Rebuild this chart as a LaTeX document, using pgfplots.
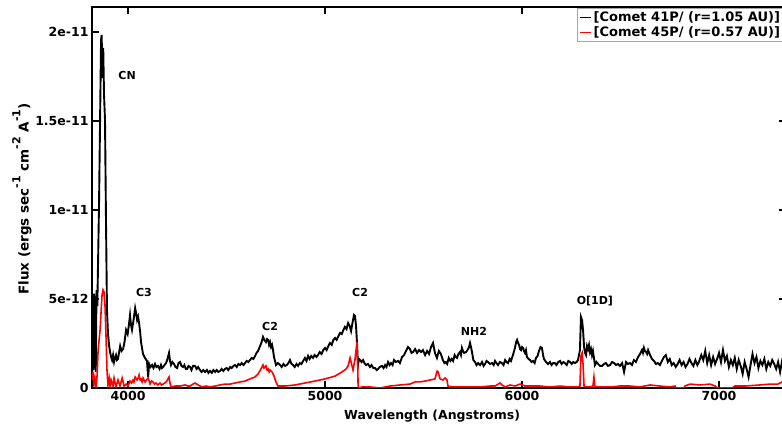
\documentclass[border=0pt]{standalone}
\usepackage{fontspec}
\setmainfont{DejaVu Sans}
\usepackage{pgfplots}
\pgfplotsset{compat=1.18}

% flux in units of 1e-12 erg/s/cm2/A
\pgfplotstableread{
x y
3817 0.0
3820 4.94
3824 1.0
3828 5.3
3832 4.4
3836 0.9
3840 5.5
3844 4.6
3848 7.19
3853 10.56
3858 15.06
3863 19.55
3866 19.83
3870 17.4
3874 19.1
3878 16.5
3883 15.06
3888 9.44
3893 4.38
3898 3.10
3904 2.36
3909 2.02
3914 1.74
3919 1.57
3924 1.85
3929 1.46
3934 1.69
3939 1.85
3944 1.57
3949 1.63
3954 1.97
3960 2.36
3967 2.08
3975 2.19
3982 2.58
3990 3.26
3998 3.03
4005 3.60
4010 4.10
4015 3.54
4020 3.26
4028 3.82
4036 4.49
4041 4.20
4046 3.82
4051 4.00
4056 3.65
4061 3.20
4066 2.58
4076 1.91
4086 1.69
4096 1.52
4102 0.62
4107 1.35
4114 1.18
4122 1.29
4129 1.12
4137 1.35
4144 1.18
4152 1.24
4160 1.07
4167 1.29
4172 1.12
4178 1.18
4185 1.29
4193 1.40
4200 1.63
4208 1.97
4213 1.52
4218 1.29
4225 1.46
4233 1.35
4241 1.18
4249 1.12
4256 1.40
4264 1.46
4271 1.24
4279 1.18
4286 1.29
4293 1.07
4300 1.07
4307 1.24
4315 1.18
4322 1.01
4330 1.24
4340 1.24
4348 1.07
4356 1.18
4365 1.01
4373 0.90
4382 1.01
4391 0.90
4400 1.01
4408 0.85
4416 0.96
4425 0.85
4433 1.01
4442 0.90
4450 1.01
4458 0.90
4467 0.96
4475 1.07
4484 0.96
4492 1.07
4500 1.12
4509 1.01
4518 1.18
4526 1.12
4535 1.24
4543 1.29
4552 1.18
4560 1.35
4569 1.29
4577 1.40
4586 1.29
4594 1.40
4602 1.52
4611 1.46
4619 1.57
4628 1.69
4636 1.63
4645 1.80
4652 1.97
4660 2.08
4670 2.36
4678 2.58
4685 2.87
4692 2.70
4700 2.58
4706 2.75
4711 2.70
4716 2.42
4721 2.58
4726 2.30
4731 2.42
4736 2.13
4741 1.74
4751 1.29
4761 1.40
4772 1.29
4780 1.18
4789 1.35
4797 1.24
4806 1.29
4814 1.40
4822 1.57
4830 1.35
4838 1.29
4846 1.18
4855 1.35
4863 1.24
4872 1.40
4880 1.35
4889 1.52
4898 1.69
4906 1.52
4914 1.80
4922 1.63
4930 1.80
4939 1.69
4947 1.85
4956 1.74
4964 1.85
4973 2.02
4982 1.91
4991 2.13
5000 2.25
5008 2.13
5017 2.36
5025 2.53
5034 2.42
5042 2.70
5051 2.81
5059 2.70
5068 2.92
5076 3.09
5085 3.03
5093 3.26
5101 3.43
5109 3.31
5117 3.65
5125 3.48
5132 3.20
5140 3.70
5147 4.10
5152 4.04
5157 3.54
5162 2.58
5167 1.29
5172 1.63
5178 1.57
5185 1.46
5193 1.57
5200 1.40
5208 1.29
5218 1.35
5228 1.18
5236 1.29
5245 1.12
5254 1.12
5262 1.01
5269 1.07
5278 1.18
5289 1.24
5297 1.12
5305 1.29
5312 1.18
5320 1.46
5328 1.29
5335 1.40
5343 1.29
5350 1.57
5360 1.46
5371 1.52
5380 1.40
5391 1.74
5401 1.85
5411 2.08
5421 2.30
5431 2.19
5439 1.97
5447 2.02
5457 2.19
5467 1.97
5477 2.13
5487 2.02
5497 2.13
5508 1.85
5518 2.08
5528 1.91
5538 2.30
5548 2.53
5558 1.97
5568 1.69
5578 2.08
5588 1.91
5598 1.57
5606 1.40
5613 1.46
5620 1.35
5628 1.69
5636 1.52
5643 1.63
5650 1.52
5658 1.85
5664 1.74
5670 1.69
5677 1.91
5685 2.02
5690 1.85
5695 2.25
5700 2.08
5706 1.97
5716 2.02
5726 2.19
5731 2.30
5736 2.53
5741 2.30
5746 2.02
5753 1.57
5761 1.46
5769 1.29
5777 1.40
5787 1.29
5797 1.46
5805 1.24
5812 1.35
5820 1.52
5827 1.46
5838 1.35
5848 1.40
5856 1.29
5863 1.52
5870 1.40
5878 1.29
5888 1.46
5898 1.40
5906 1.29
5914 1.57
5921 1.46
5929 1.40
5937 1.63
5944 1.52
5954 1.85
5964 2.25
5970 2.58
5975 2.70
5980 2.53
5985 2.42
5990 2.19
5995 2.13
6000 2.30
6005 2.25
6010 2.08
6015 1.97
6020 2.13
6025 1.74
6033 1.63
6041 1.57
6048 1.46
6056 1.52
6064 1.40
6071 1.69
6079 1.80
6086 2.08
6094 2.30
6101 2.25
6106 1.91
6111 1.63
6122 1.46
6132 1.35
6142 1.46
6150 1.29
6158 1.40
6167 1.40
6175 1.29
6184 1.46
6193 1.52
6201 1.35
6210 1.46
6218 1.40
6227 1.29
6235 1.52
6244 1.46
6252 1.35
6260 1.46
6269 1.40
6277 1.46
6284 1.57
6294 2.13
6299 3.99
6305 3.80
6310 3.20
6315 2.30
6320 1.97
6325 1.85
6330 2.36
6335 2.19
6340 2.42
6345 2.02
6350 2.19
6355 1.85
6360 2.08
6365 1.69
6370 1.29
6378 1.46
6386 1.35
6396 1.24
6406 1.24
6416 1.35
6426 1.40
6436 1.24
6447 1.29
6457 1.46
6467 1.40
6477 1.29
6487 1.35
6497 1.24
6508 1.40
6518 0.90
6528 1.46
6538 1.35
6548 1.40
6558 1.29
6568 1.57
6578 1.46
6589 1.74
6599 1.91
6609 2.13
6614 1.97
6619 2.25
6624 2.08
6629 2.02
6635 1.91
6640 2.13
6650 1.85
6660 1.63
6670 1.52
6680 1.35
6690 1.40
6700 1.29
6710 1.52
6720 1.74
6730 1.85
6740 1.46
6750 1.63
6760 1.29
6770 1.40
6780 1.18
6790 1.35
6800 1.57
6810 1.29
6820 1.46
6830 1.18
6840 1.35
6850 1.63
6860 1.40
6870 1.24
6880 1.57
6890 1.29
6900 1.52
6910 1.85
6920 1.57
6930 2.08
6940 1.40
6950 1.85
6960 1.29
6970 1.74
6980 1.35
6990 1.63
7000 1.97
7010 1.46
7020 2.13
7030 1.52
7040 1.80
7050 1.18
7060 1.57
7070 1.29
7080 1.69
7090 1.07
7100 1.57
7110 1.24
7120 0.79
7130 1.46
7140 1.07
7150 0.62
7160 1.29
7170 1.91
7180 1.40
7190 1.74
7200 1.12
7210 1.52
7220 1.29
7230 1.63
7240 1.07
7250 1.46
7260 1.24
7270 1.57
7280 1.35
7290 1.07
7300 1.46
7310 0.90
7320 1.52
7330 1.24
7340 1.35
}\cometA

\pgfplotstableread{
x y
3817 0.45
3822 0.90
3827 0.17
3832 0.56
3838 0.0
3843 0.73
3848 2.13
3853 2.70
3858 3.26
3863 4.27
3868 5.22
3873 5.51
3878 5.39
3883 4.66
3888 2.98
3893 1.01
3898 0.17
3904 0.56
3909 0.06
3914 0.45
3924 0.11
3929 0.56
3939 0.06
3949 0.45
3959 0.11
3970 0.56
3980 0.11
3990 0.22
4000 0.11
4010 0.39
4018 0.28
4025 0.45
4030 0.34
4036 0.62
4046 0.45
4051 0.56
4056 0.73
4061 0.45
4066 0.51
4071 0.34
4076 0.56
4086 0.34
4094 0.45
4102 0.56
4112 0.22
4120 0.39
4127 0.34
4135 0.22
4142 0.28
4152 0.17
4162 0.28
4170 0.17
4178 0.22
4186 0.28
4193 0.34
4200 0.45
4208 0.62
4213 0.28
4218 0.06
4239 0.11
4264 0.11
4289 0.17
4305 0.11
4315 0.11
4330 0.22
4340 0.28
4355 0.17
4376 0.06
4396 0.11
4416 0.06
4442 0.11
4467 0.17
4492 0.22
4518 0.22
4543 0.28
4569 0.34
4594 0.39
4619 0.51
4645 0.62
4660 0.79
4675 1.07
4685 1.29
4690 1.12
4695 1.18
4700 1.24
4706 1.01
4711 1.07
4716 0.90
4721 1.01
4731 0.90
4741 0.67
4751 0.34
4761 0.11
4797 0.11
4848 0.17
4898 0.28
4949 0.39
5000 0.51
5051 0.67
5086 0.90
5107 1.07
5117 1.24
5127 1.69
5142 1.01
5152 1.60
5162 2.58
5166 1.20
5168 0.0
5188 0.06
5228 0.06
5279 0.0
5330 0.11
5381 0.17
5431 0.22
5457 0.34
5482 0.34
5508 0.39
5533 0.45
5558 0.51
5569 0.95
5574 0.90
5584 0.51
5599 0.45
5609 0.56
5619 0.45
5624 0.11
5645 0.06
5685 0.06
5736 0.06
5787 0.06
5838 0.11
5863 0.11
5888 0.28
5898 0.17
5914 0.06
5939 0.17
5964 0.11
5990 0.22
6015 0.11
6041 0.11
6091 0.11
6142 0.06
6193 0.11
6244 0.06
6284 0.06
6294 0.11
6299 1.80
6305 1.97
6310 1.29
6315 0.06
6345 0.06
6360 0.11
6365 0.62
6370 0.06
6396 0.06
6447 0.06
6497 0.11
6548 0.11
6599 0.06
6650 0.17
6700 0.11
6751 0.06
6777 0.11
6782 0.0
6822 0.0
6827 0.11
6853 0.22
6904 0.17
6954 0.22
6980 0.11
6995 0.0
7066 0.0
7081 0.11
7132 0.11
7208 0.17
7259 0.22
7299 0.22
7320 0.34
7340 0.45
}\cometB

\begin{document}
\begin{tikzpicture}
\begin{axis}[
    at={(92pt,43pt)}, anchor=south west,
    width=694pt, height=381pt, scale only axis,
    xmin=3817, xmax=7340, ymin=0, ymax=21.4,
    axis line style={line width=1.6pt},
    tick align=inside, major tick length=7pt,
    tick style={line width=1.2pt, black},
    xtick={4000,5000,6000,7000}, xticklabels={4000,5000,6000,7000},
    ytick={0,5,10,15,20}, yticklabels={0,5e-12,1e-11,1.5e-11,2e-11},
    scaled ticks=false,
    /pgf/number format/assume math mode=true,
    tick label style={font=\fontsize{12.5}{14}\selectfont\bfseries},
    xlabel={Wavelength (Angstroms)},
    ylabel={Flux (ergs sec\raisebox{1.1ex}{\fontsize{11}{12}\selectfont -1} cm\raisebox{1.1ex}{\fontsize{11}{12}\selectfont -2} A\raisebox{1.1ex}{\fontsize{11}{12}\selectfont -1})},
    xlabel style={font=\fontsize{12.5}{14}\selectfont\bfseries,
        at={(axis description cs:0.49,-0.0735)}, anchor=center},
    ylabel style={font=\fontsize{13.5}{15}\selectfont\bfseries,
        at={(axis description cs:-0.101,0.496)}, anchor=center},
    legend style={at={(rel axis cs:0.699,0.997)}, anchor=north west,
        draw=gray!70, line width=0.6pt, fill=white,
        font=\fontsize{13}{18}\selectfont\bfseries,
        inner xsep=2pt, inner ysep=1pt},
    legend cell align=left,
    legend image code/.code={\draw[#1] (0pt,0pt) -- (11pt,0pt);},
]
\addplot[black, line width=1.9pt, forget plot] table[x=x, y=y] {\cometA};
\addplot[red, line width=1.6pt, forget plot] table[x=x, y=y] {\cometB};
\addlegendimage{color=black, line width=1.3pt}
\addlegendentry{{}[Comet 41P/ (r=1.05 AU)]\rule[-4pt]{0pt}{14pt}}
\addlegendimage{color=red, line width=1.3pt}
\addlegendentry{{}[Comet 45P/ (r=0.57 AU)]\rule[-4pt]{0pt}{14pt}}

\begin{scope}[every node/.style={font=\fontsize{11}{13}\selectfont\bfseries}]
\node at (axis cs:3995,17.58) {CN};
\node at (axis cs:4081,5.34) {C3};
\node at (axis cs:4721,3.48) {C2};
\node at (axis cs:5178,5.34) {C2};
\node at (axis cs:5756,3.20) {NH2};
\node at (axis cs:6370,4.89) {O[1D]};
\end{scope}
\end{axis}
\pgfresetboundingbox
\path (0,0) rectangle (782pt,431pt);
\end{tikzpicture}
\end{document}
